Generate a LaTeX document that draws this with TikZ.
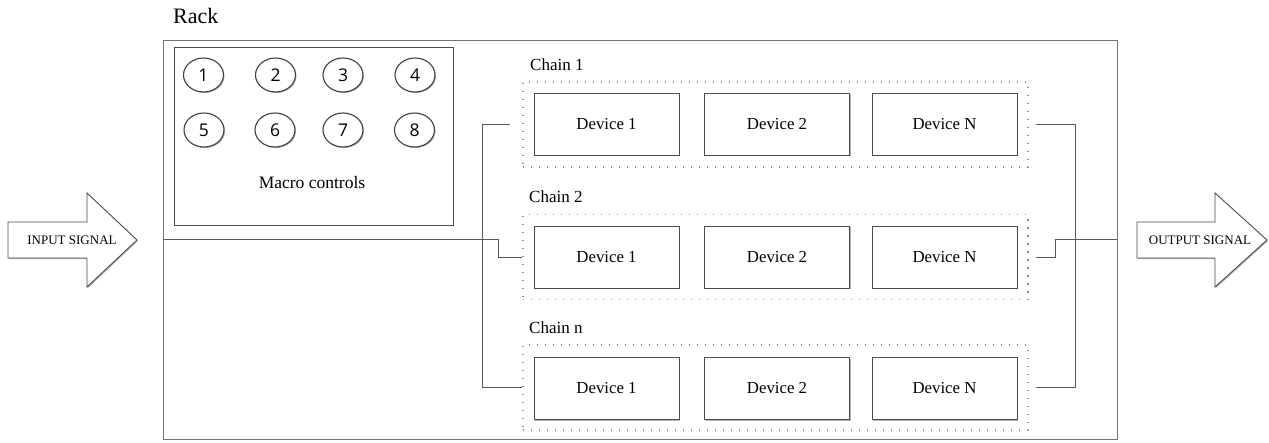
\documentclass[tikz,border=0pt]{standalone}
\usepackage{fontspec}
\setmainfont{Liberation Serif}
\newfontfamily\digitfont{Open Sans}
\usetikzlibrary{shadows,shapes.geometric}
\begin{document}
\begin{tikzpicture}[x=1pt,y=-1pt,
  boxline/.style={draw=black!70, line width=0.9pt},
  shad/.style={drop shadow={shadow xshift=1pt, shadow yshift=-1pt, opacity=0.3, fill=black}},
  device/.style={boxline, shad, fill=white, minimum width=145pt, minimum height=62pt, inner sep=0pt, font=\rmfamily\fontsize{16.8}{19}\selectfont},
  chainbox/.style={draw=black!45, line width=1.2pt, dash pattern=on 1.2pt off 6.8pt, minimum width=505pt, minimum height=85pt, inner sep=0pt},
  chainlabel/.style={anchor=base west, inner sep=0pt, font=\rmfamily\fontsize{17}{19}\selectfont},
  knob/.style={ellipse, draw=black!75, line width=1.1pt, shad, fill=white, minimum width=40pt, minimum height=34pt, inner sep=0pt, font=\digitfont\fontsize{17.5}{19}\selectfont},
  conn/.style={draw=black!65, line width=0.9pt},
  bigarrow/.style={boxline, shad, fill=white, line join=miter},
  arrowtext/.style={inner sep=0pt, font=\rmfamily\fontsize{13}{15}\selectfont}
]
\useasboundingbox (0,0) rectangle (1269,442);

% rack
\node[boxline, draw=black!55, minimum width=954pt, minimum height=399pt, inner sep=0pt] (rack) at (640,239.5) {};
\node[anchor=base west, inner sep=0pt, font=\rmfamily\fontsize{22}{24}\selectfont] (racklabel) at (173,23) {Rack};

% macro controls
\node[boxline, shad, fill=white, minimum width=279pt, minimum height=178pt, inner sep=0pt] (macro) at (313.5,136) {};
\node[knob] (k1) at (203.5,75) {1};
\node[knob] (k2) at (275.5,75) {2};
\node[knob] (k3) at (343,75) {3};
\node[knob] (k4) at (415,75) {4};
\node[knob] (k5) at (204,130) {5};
\node[knob] (k6) at (275,130) {6};
\node[knob] (k7) at (343,130) {7};
\node[knob] (k8) at (414.5,130) {8};
\node[inner sep=0pt, font=\rmfamily\fontsize{17.5}{19}\selectfont] (macrolabel) at (312,183) {Macro controls};

% chains
\node[chainbox] (chain1) at (775.5,124.5) {};
\node[chainbox] (chain2) at (775.5,257) {};
\node[chainbox] (chainn) at (775.5,387.5) {};
\node[chainlabel] (c1label) at (530,70) {Chain 1};
\node[chainlabel] (c2label) at (529,202) {Chain 2};
\node[chainlabel] (cnlabel) at (529,333) {Chain n};

\node[device] (d11) at (606.5,124) {Device 1};
\node[device] (d12) at (777,124) {Device 2};
\node[device] (d1n) at (944.5,124) {Device N};
\node[device] (d21) at (606.5,257) {Device 1};
\node[device] (d22) at (777,257) {Device 2};
\node[device] (d2n) at (944.5,257) {Device N};
\node[device] (dn1) at (606.5,388.5) {Device 1};
\node[device] (dn2) at (777,388.5) {Device 2};
\node[device] (dnn) at (944.5,388.5) {Device N};

% connectors
\draw[conn] (rack.west) -- ++(336,0) |- (chain2.west);
\draw[conn] ([xshift=-12pt]chain1.west) -- ++(-28,0) |- (chainn.west);
\draw[conn] ([xshift=7pt]chain1.east) -- ++(40,0) |- ([xshift=7pt]chainn.east);
\draw[conn] ([xshift=7pt]chain2.east) -- ++(20,0) |- (rack.east);

% big arrows
\draw[bigarrow] (8,222) -- (87,222) -- (87,193) -- (137,240) -- (87,287) -- (87,258) -- (8,258) -- cycle;
\node[arrowtext] (input) at (72,240) {INPUT SIGNAL};
\draw[bigarrow] (1137,222) -- (1215,222) -- (1215,193) -- (1267,240) -- (1215,287) -- (1215,258) -- (1137,258) -- cycle;
\node[arrowtext] (output) at (1200,240) {OUTPUT SIGNAL};
\end{tikzpicture}
\end{document}
